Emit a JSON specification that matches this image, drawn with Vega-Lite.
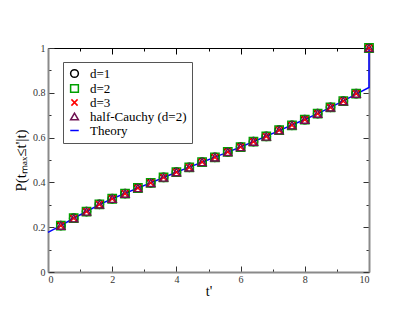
{
  "$schema": "https://vega.github.io/schema/vega-lite/v6.json",
  "width": 321,
  "height": 224,
  "autosize": {"type": "none"},
  "padding": {"left": 48, "top": 48, "right": 46, "bottom": 49},
  "background": "white",
  "config": {
    "view": {"stroke": null},
    "font": "Liberation Serif",
    "style": {
      "guide-label": {"font": "Liberation Serif"},
      "guide-title": {"font": "Liberation Serif"}
    },
    "axis": {
      "grid": false,
      "labelFont": "Liberation Serif",
      "labelFontSize": 10,
      "labelColor": "#333333",
      "tickColor": "#333333",
      "titleFont": "Liberation Serif",
      "titleFontWeight": "normal",
      "titleColor": "#000000"
    },
    "legend": {
      "orient": "none",
      "legendX": 15,
      "legendY": 14,
      "strokeColor": "#555555",
      "fillColor": "white",
      "padding": 5,
      "labelFont": "Liberation Serif",
      "labelFontSize": 13,
      "labelColor": "#000000",
      "symbolSize": 60,
      "symbolStrokeWidth": 1.5,
      "rowPadding": 0,
      "labelOffset": 9
    }
  },
  "datasets": {
    "pts": [
      {"t": 0.4, "d=1": 0.207, "d=2": 0.207, "d=3": 0.207, "half-Cauchy (d=2)": 0.207},
      {"t": 0.8, "d=1": 0.240, "d=2": 0.240, "d=3": 0.240, "half-Cauchy (d=2)": 0.240},
      {"t": 1.2, "d=1": 0.270, "d=2": 0.270, "d=3": 0.270, "half-Cauchy (d=2)": 0.270},
      {"t": 1.6, "d=1": 0.302, "d=2": 0.302, "d=3": 0.302, "half-Cauchy (d=2)": 0.302},
      {"t": 2.0, "d=1": 0.327, "d=2": 0.327, "d=3": 0.327, "half-Cauchy (d=2)": 0.327},
      {"t": 2.4, "d=1": 0.350, "d=2": 0.350, "d=3": 0.350, "half-Cauchy (d=2)": 0.350},
      {"t": 2.8, "d=1": 0.375, "d=2": 0.375, "d=3": 0.375, "half-Cauchy (d=2)": 0.375},
      {"t": 3.2, "d=1": 0.398, "d=2": 0.398, "d=3": 0.398, "half-Cauchy (d=2)": 0.398},
      {"t": 3.6, "d=1": 0.422, "d=2": 0.422, "d=3": 0.422, "half-Cauchy (d=2)": 0.422},
      {"t": 4.0, "d=1": 0.446, "d=2": 0.446, "d=3": 0.446, "half-Cauchy (d=2)": 0.446},
      {"t": 4.4, "d=1": 0.467, "d=2": 0.467, "d=3": 0.467, "half-Cauchy (d=2)": 0.467},
      {"t": 4.8, "d=1": 0.491, "d=2": 0.491, "d=3": 0.491, "half-Cauchy (d=2)": 0.491},
      {"t": 5.2, "d=1": 0.512, "d=2": 0.512, "d=3": 0.512, "half-Cauchy (d=2)": 0.512},
      {"t": 5.6, "d=1": 0.536, "d=2": 0.536, "d=3": 0.536, "half-Cauchy (d=2)": 0.536},
      {"t": 6.0, "d=1": 0.558, "d=2": 0.558, "d=3": 0.558, "half-Cauchy (d=2)": 0.558},
      {"t": 6.4, "d=1": 0.582, "d=2": 0.582, "d=3": 0.582, "half-Cauchy (d=2)": 0.582},
      {"t": 6.8, "d=1": 0.605, "d=2": 0.605, "d=3": 0.605, "half-Cauchy (d=2)": 0.605},
      {"t": 7.2, "d=1": 0.633, "d=2": 0.633, "d=3": 0.633, "half-Cauchy (d=2)": 0.633},
      {"t": 7.6, "d=1": 0.655, "d=2": 0.655, "d=3": 0.655, "half-Cauchy (d=2)": 0.655},
      {"t": 8.0, "d=1": 0.680, "d=2": 0.680, "d=3": 0.680, "half-Cauchy (d=2)": 0.680},
      {"t": 8.4, "d=1": 0.707, "d=2": 0.707, "d=3": 0.707, "half-Cauchy (d=2)": 0.707},
      {"t": 8.8, "d=1": 0.735, "d=2": 0.735, "d=3": 0.735, "half-Cauchy (d=2)": 0.735},
      {"t": 9.2, "d=1": 0.763, "d=2": 0.763, "d=3": 0.763, "half-Cauchy (d=2)": 0.763},
      {"t": 9.6, "d=1": 0.796, "d=2": 0.796, "d=3": 0.796, "half-Cauchy (d=2)": 0.796},
      {"t": 10.0, "d=1": 1.0, "d=2": 1.0, "d=3": 1.0, "half-Cauchy (d=2)": 1.0}
    ],
    "theory": [
      {"i": 0, "t": 0.0, "p": 0.177, "series": "Theory"},
      {"i": 1, "t": 0.4, "p": 0.207, "series": "Theory"},
      {"i": 2, "t": 0.8, "p": 0.240, "series": "Theory"},
      {"i": 3, "t": 1.2, "p": 0.270, "series": "Theory"},
      {"i": 4, "t": 1.6, "p": 0.301, "series": "Theory"},
      {"i": 5, "t": 2.0, "p": 0.327, "series": "Theory"},
      {"i": 6, "t": 2.4, "p": 0.351, "series": "Theory"},
      {"i": 7, "t": 2.8, "p": 0.375, "series": "Theory"},
      {"i": 8, "t": 3.2, "p": 0.398, "series": "Theory"},
      {"i": 9, "t": 3.6, "p": 0.422, "series": "Theory"},
      {"i": 10, "t": 4.0, "p": 0.445, "series": "Theory"},
      {"i": 11, "t": 4.4, "p": 0.468, "series": "Theory"},
      {"i": 12, "t": 4.8, "p": 0.490, "series": "Theory"},
      {"i": 13, "t": 5.2, "p": 0.513, "series": "Theory"},
      {"i": 14, "t": 5.6, "p": 0.535, "series": "Theory"},
      {"i": 15, "t": 6.0, "p": 0.558, "series": "Theory"},
      {"i": 16, "t": 6.4, "p": 0.582, "series": "Theory"},
      {"i": 17, "t": 6.8, "p": 0.606, "series": "Theory"},
      {"i": 18, "t": 7.2, "p": 0.631, "series": "Theory"},
      {"i": 19, "t": 7.6, "p": 0.656, "series": "Theory"},
      {"i": 20, "t": 8.0, "p": 0.681, "series": "Theory"},
      {"i": 21, "t": 8.4, "p": 0.707, "series": "Theory"},
      {"i": 22, "t": 8.8, "p": 0.735, "series": "Theory"},
      {"i": 23, "t": 9.2, "p": 0.764, "series": "Theory"},
      {"i": 24, "t": 9.6, "p": 0.794, "series": "Theory"},
      {"i": 25, "t": 10.0, "p": 0.824, "series": "Theory"},
      {"i": 26, "t": 10.0, "p": 1.0, "series": "Theory"}
    ]
  },
  "resolve": {"axis": {"x": "independent", "y": "independent"}},
  "layer": [
    {
      "data": {"name": "theory"},
      "mark": {"type": "line", "strokeWidth": 1.5, "clip": false},
      "encoding": {
        "x": {
          "field": "t", "type": "quantitative",
          "scale": {"domain": [0, 10], "nice": false, "zero": false},
          "axis": {
            "orient": "top", "values": [0, 1, 2, 3, 4, 5, 6, 7, 8, 9, 10],
            "labels": false, "title": null,
            "tickSize": {"condition": {"test": "datum.value % 2 == 1", "value": -3}, "value": -6},
            "domainColor": "#000000", "domainWidth": 1, "tickColor": "#000000"
          }
        },
        "y": {
          "field": "p", "type": "quantitative",
          "scale": {"domain": [0, 1], "nice": false, "zero": false},
          "axis": {
            "orient": "right", "values": [0, 0.1, 0.2, 0.3, 0.4, 0.5, 0.6, 0.7, 0.8, 0.9, 1],
            "labels": false, "title": null,
            "tickSize": {"condition": {"test": "round(datum.value*10) % 2 == 1", "value": -3}, "value": -6},
            "domainColor": "#8a8a8a", "domainWidth": 2
          }
        },
        "order": {"field": "i", "type": "quantitative"},
        "color": {
          "field": "series", "type": "nominal",
          "scale": {
            "domain": ["d=1", "d=2", "d=3", "half-Cauchy (d=2)", "Theory"],
            "range": ["#000000", "#00a000", "#ff0000", "#6e1050", "#0000ff"]
          },
          "legend": {
            "title": null,
            "encode": {"labels": {"update": {"font": {"value": "Liberation Serif"}, "fontSize": {"value": 13}, "fill": {"value": "#000000"}}}}
          }
        }
      }
    },
    {
      "data": {"name": "pts"},
      "transform": [
        {"fold": ["d=1", "d=2", "d=3", "half-Cauchy (d=2)"], "as": ["series", "p"]}
      ],
      "mark": {"type": "point", "filled": false, "size": 70, "strokeWidth": 1.4, "opacity": 1, "clip": false},
      "encoding": {
        "x": {
          "field": "t", "type": "quantitative",
          "axis": {
            "orient": "bottom", "values": [0, 1, 2, 3, 4, 5, 6, 7, 8, 9, 10],
            "labelExpr": "datum.value % 2 == 1 ? '' : format(datum.value, '~g')",
            "labelFont": "Liberation Serif",
            "tickSize": {"condition": {"test": "datum.value % 2 == 1", "value": -3}, "value": -6},
            "labelPadding": 8,
            "domainColor": "#8a8a8a", "domainWidth": 2,
            "title": "t'", "titleFontSize": 14, "titlePadding": 0
          }
        },
        "y": {
          "field": "p", "type": "quantitative",
          "axis": {
            "orient": "left", "values": [0, 0.1, 0.2, 0.3, 0.4, 0.5, 0.6, 0.7, 0.8, 0.9, 1],
            "labelExpr": "round(datum.value*10) % 2 == 1 ? '' : format(datum.value, '~g')",
            "labelFont": "Liberation Serif",
            "tickSize": {"condition": {"test": "round(datum.value*10) % 2 == 1", "value": -3}, "value": -6},
            "labelPadding": 9,
            "domainColor": "#8a8a8a", "domainWidth": 2,
            "title": "P(tₘₐₓ≤t'|t)", "titleFontSize": 15, "titlePadding": 4
          }
        },
        "color": {
          "field": "series", "type": "nominal",
          "legend": {
            "title": null,
            "encode": {"labels": {"update": {"font": {"value": "Liberation Serif"}, "fontSize": {"value": 13}, "fill": {"value": "#000000"}}}}
          }
        },
        "shape": {
          "field": "series", "type": "nominal",
          "scale": {
            "domain": ["d=1", "d=2", "d=3", "half-Cauchy (d=2)", "Theory"],
            "range": ["circle", "square", "M-0.8,-0.8L0.8,0.8M-0.8,0.8L0.8,-0.8", "triangle-up", "M-1.1,0L1.1,0"]
          },
          "legend": {
            "title": null,
            "encode": {"labels": {"update": {"font": {"value": "Liberation Serif"}, "fontSize": {"value": 13}, "fill": {"value": "#000000"}}}}
          }
        }
      }
    }
  ]
}
